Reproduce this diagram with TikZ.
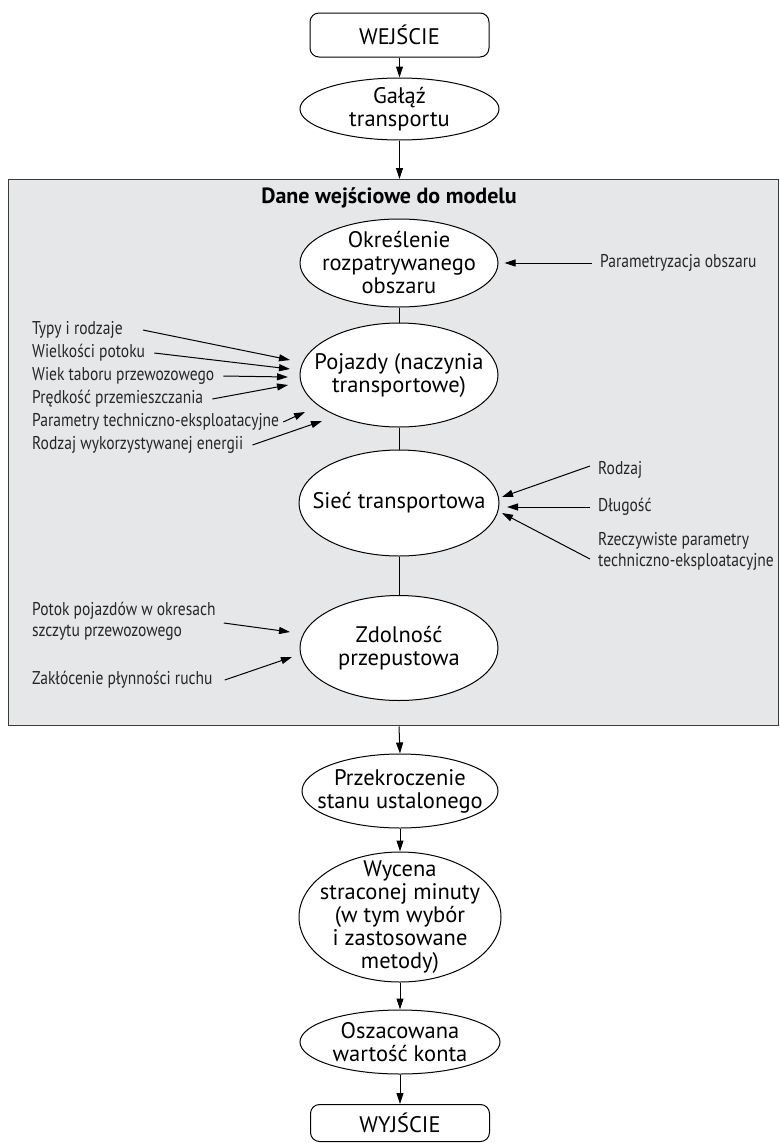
\documentclass[tikz,border=0pt]{standalone}
\usepackage{fontspec}
\setmainfont{PT Sans}
\newfontfamily\lblfont{PT Sans}[FakeStretch=0.84]
\usetikzlibrary{shapes.geometric,arrows.meta}
\definecolor{panelbg}{HTML}{E6E7E8}
\definecolor{panelbd}{HTML}{3A3A3A}
\begin{document}
\begin{tikzpicture}[x=1pt,y=-1pt,
  txt/.style={font=\fontsize{22.5}{23}\selectfont, align=center, inner sep=0pt},
  ell/.style={ellipse, draw=black, line width=1pt, fill=white, inner sep=0pt},
  term/.style={txt, draw=black, line width=1pt, fill=white, rounded corners=9pt, minimum width=179pt},
  lbl/.style={font=\lblfont\fontsize{18.5}{21}\selectfont, align=left, inner sep=0pt, anchor=west, text=black!85},
  arr/.style={-{Triangle[length=11pt,width=7pt]}, line width=1pt},
  con/.style={line width=1pt}]
\useasboundingbox (0,0) rectangle (779,1143);

% panel
\node[draw=panelbd, line width=1.4pt, fill=panelbg, minimum width=770pt, minimum height=546pt, inner sep=0pt, anchor=north west] (panel) at (8,179) {};
\node[font=\bfseries\fontsize{22}{24}\selectfont, inner sep=0pt] (title) at (389,198) {Dane wejściowe do modelu};

% main chain (ellipses of fixed size, text set on top)
\node[term, minimum height=44pt] (in) at (399.5,35) {WEJŚCIE};
\node[ell, minimum width=199pt, minimum height=62pt] (gal) at (399.5,109) {};
\node[txt] (galt) at (gal) {Gałąź\\transportu};
\node[ell, minimum width=198pt, minimum height=88pt] (okr) at (399,263) {};
\node[txt] (okrt) at (okr) {Określenie\\rozpatrywanego\\obszaru};
\node[ell, minimum width=198pt, minimum height=104pt] (poj) at (399,375) {};
\node[txt] (pojt) at (poj) {Pojazdy (naczynia\\transportowe)};
\node[ell, minimum width=200pt, minimum height=106pt] (siec) at (399,503) {};
\node[txt] (siect) at (siec) {Sieć transportowa};
\node[ell, minimum width=198pt, minimum height=105pt] (zdol) at (399,648) {};
\node[txt] (zdolt) at (zdol) {Zdolność\\przepustowa};
\node[ell, minimum width=196pt, minimum height=74pt] (przek) at (400,791) {};
\node[txt] (przekt) at (przek) {Przekroczenie\\stanu ustalonego};
\node[ell, minimum width=202pt, minimum height=130pt] (wyc) at (400,917) {};
\node[txt] (wyct) at (wyc) {Wycena\\straconej minuty\\(w tym wybór\\i zastosowane\\metody)};
\node[ell, minimum width=200pt, minimum height=64pt] (osz) at (400,1042) {};
\node[txt] (oszt) at (osz) {Oszacowana\\wartość konta};
\node[term, minimum height=37pt] (out) at (400,1123) {WYJŚCIE};

\draw[arr] (in) -- (gal);
\draw[arr] (gal.south) -- (gal.south |- panel.north);
\draw[con] (okr) -- (poj);
\draw[con] (poj) -- (siec);
\draw[con] (siec) -- (zdol);
\draw[arr] (zdol.south |- panel.south) -- (przek.north);
\draw[arr] (przek) -- (wyc);
\draw[arr] (wyc) -- (osz);
\draw[arr] (osz) -- (out);

% right of Okreslenie
\node[lbl] (pa) at (600,263) {Parametryzacja obszaru};
\draw[arr, shorten >=6pt] ([xshift=-8pt]pa.west) -- (okr.east);

% left of Pojazdy
\node[lbl] (l1) at (32,330) {Typy i rodzaje};
\node[lbl] (l2) at (32,353) {Wielkości potoku};
\node[lbl] (l3) at (32,376) {Wiek taboru przewozowego};
\node[lbl] (l4) at (32,399) {Prędkość przemieszczania};
\node[lbl] (l5) at (32,422) {Parametry techniczno-eksploatacyjne};
\node[lbl] (l6) at (32,445) {Rodzaj wykorzystywanej energii};
\coordinate (t1) at (290,360);
\coordinate (t2) at (290,369);
\coordinate (t3) at (288,377);
\coordinate (t4) at (288,385);
\coordinate (t5) at (305,412);
\coordinate (t6) at (322,421);
\draw[arr] ([xshift=20pt]l1.east) -- (t1);
\draw[arr] ([xshift=9pt]l2.east) -- (t2);
\draw[arr] ([xshift=9pt]l3.east) -- (t3);
\draw[arr] ([xshift=9pt]l4.east) -- (t4);
\draw[arr] ([xshift=4pt]l5.east) -- (t5);
\draw[arr] ([xshift=9pt]l6.east) -- (t6);

% right of Siec
\node[lbl] (r1) at (598,470) {Rodzaj};
\node[lbl] (r2) at (598,507) {Długość};
\node[lbl] (r3) at (598,551) {Rzeczywiste parametry\\techniczno-eksploatacyjne};
\coordinate (s1) at (502,497);
\coordinate (s2) at (507,507);
\coordinate (s3) at (502,513);
\draw[arr] ([xshift=-8pt,yshift=4pt]r1.west) -- (s1);
\draw[arr] ([xshift=-8pt]r2.west) -- (s2);
\draw[arr] ([xshift=-8pt,yshift=-8pt]r3.west) -- (s3);

% left of Zdolnosc
\node[lbl] (z1) at (32,621) {Potok pojazdów w okresach\\szczytu przewozowego};
\node[lbl] (z2) at (32,680) {Zakłócenie płynności ruchu};
\coordinate (u1) at (290,632);
\coordinate (u2) at (292,657);
\draw[arr] ([xshift=8pt,yshift=-2pt]z1.east) -- (u1);
\draw[arr] ([xshift=12pt]z2.east) -- (u2);
\end{tikzpicture}
\end{document}
